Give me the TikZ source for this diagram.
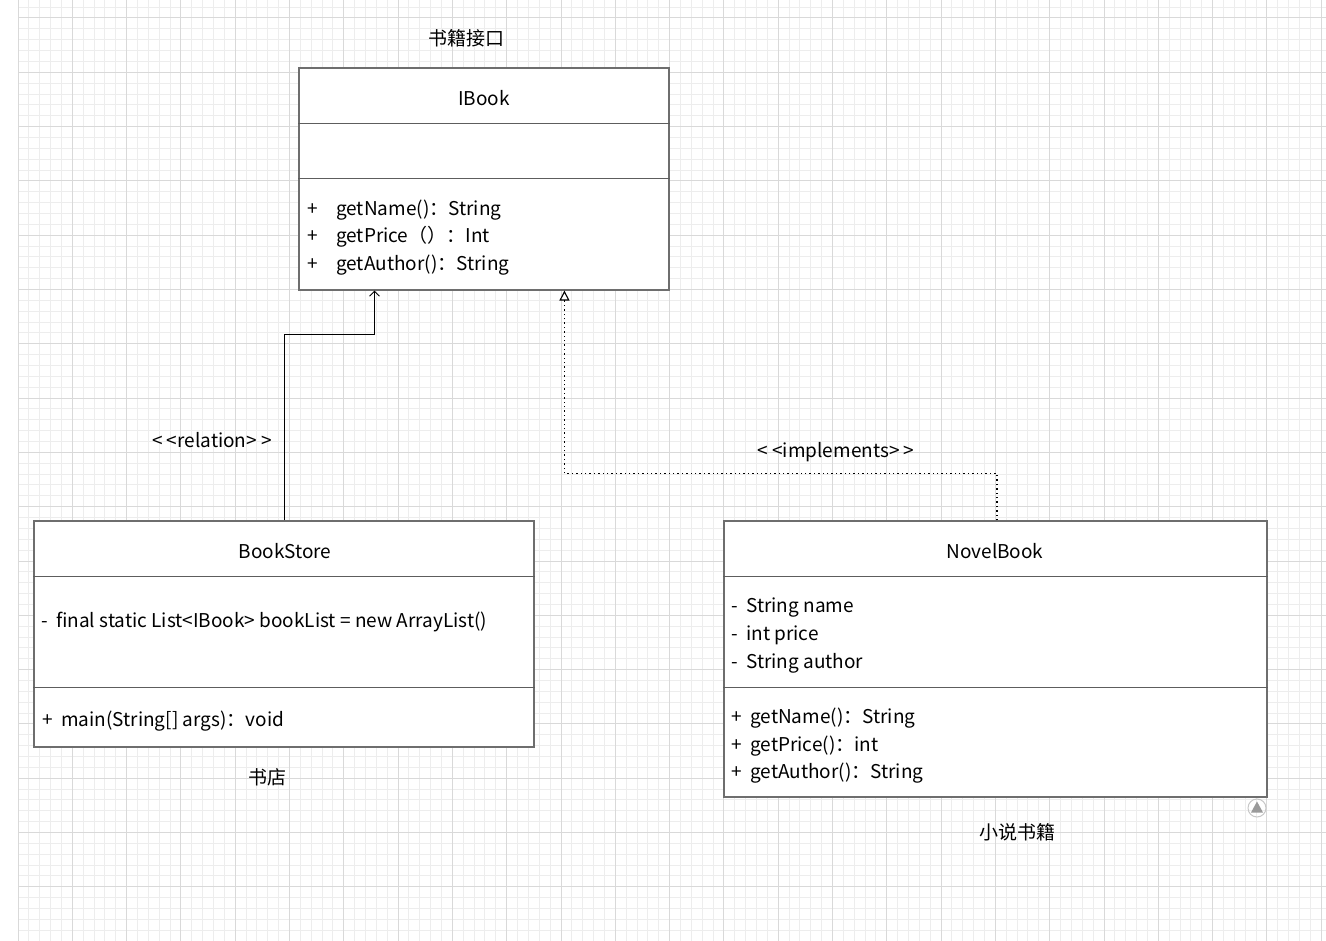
\documentclass[tikz,border=0pt]{standalone}
\usepackage{fontspec}
\setmainfont{Noto Sans CJK SC}
\usetikzlibrary{arrows.meta,calc}
\definecolor{umlGrid}{HTML}{EDEDED}
\definecolor{umlGridMajor}{HTML}{D9D9D9}
\definecolor{umlBorder}{HTML}{6E6E6E}
\definecolor{umlIcon}{HTML}{9A9A9A}

\begin{document}
\begin{tikzpicture}[x=1pt, y=-1pt, font=\fontsize{19}{22}\selectfont,
    classbox/.style={draw=umlBorder, line width=1.1pt, fill=white, inner sep=0pt},
    divider/.style={draw=umlBorder!85!black, line width=1.1pt},
    member/.style={anchor=west, inner sep=0pt},
    relline/.style={line width=0.9pt, -{Straight Barb[length=5pt, width=10pt]}},
    implline/.style={line width=1.1pt, dash pattern=on 1.4pt off 3pt,
      -{Triangle[open, length=10pt, width=10pt, fill=white]}}]
  \useasboundingbox (0,0) rectangle (1326,941);
  \fill[white] (0,0) rectangle (1326,941);
  % grid
  \foreach \i in {0,...,120}
    \draw[umlGrid, line width=1pt] (18+\i*10.86,0) -- (18+\i*10.86,941);
  \foreach \j in {-1,...,84}
    \draw[umlGrid, line width=1pt] (18,18+\j*10.86) -- (1326,18+\j*10.86);
  \foreach \i in {0,5,...,120}
    \draw[umlGridMajor, line width=1pt] (18+\i*10.86,0) -- (18+\i*10.86,941);
  \foreach \j in {0,5,...,80}
    \draw[umlGridMajor, line width=1pt] (18,18+\j*10.86) -- (1326,18+\j*10.86);

  % classes
  \node[classbox, minimum width=370pt, minimum height=222pt] (ibook) at (484,179) {};
  \node[classbox, minimum width=500pt, minimum height=226pt] (bookstore) at (284,634) {};
  \node[classbox, minimum width=543pt, minimum height=276pt] (novelbook) at (995.5,659) {};
  \draw[divider] ($(ibook.north west)+(0,56)$) -- ($(ibook.north east)+(0,56)$);
  \draw[divider] ($(ibook.north west)+(0,111)$) -- ($(ibook.north east)+(0,111)$);
  \draw[divider] ($(bookstore.north west)+(0,56)$) -- ($(bookstore.north east)+(0,56)$);
  \draw[divider] ($(bookstore.north west)+(0,167)$) -- ($(bookstore.north east)+(0,167)$);
  \draw[divider] ($(novelbook.north west)+(0,56)$) -- ($(novelbook.north east)+(0,56)$);
  \draw[divider] ($(novelbook.north west)+(0,167)$) -- ($(novelbook.north east)+(0,167)$);

  \node (ibookname) at (484,98) {IBook};
  \node[member] (ibm1) at (307,210) {\makebox[29pt][l]{+}getName()：String};
  \node[member] (ibm2) at (307,237) {\makebox[29pt][l]{+}getPrice（）：Int};
  \node[member] (ibm3) at (307,265) {\makebox[29pt][l]{+}getAuthor()：String};

  \node (bsname) at (285,551) {BookStore};
  \node[member] (bsa1) at (41,622) {-\ \ final static List<IBook>\ bookList\ =\ new ArrayList()};
  \node[member] (bsm1) at (42,721) {+\ \ main(String[] args)：void};

  \node (nbname) at (995,551) {NovelBook};
  \node[member] (nba1) at (731,608) {-\ \ String name};
  \node[member] (nba2) at (731,635) {-\ \ int price};
  \node[member] (nba3) at (731,663) {-\ \ String author};
  \node[member] (nbm1) at (731,718) {+\ \ getName()：String};
  \node[member] (nbm2) at (731,746) {+\ \ getPrice()：int};
  \node[member] (nbm3) at (731,773) {+\ \ getAuthor()：String};

  % captions
  \node (ibooklbl) at (466,38) {书籍接口};
  \node (bslbl) at (267,777) {书店};
  \node (nblbl) at (1017,832) {小说书籍};

  % connectors
  \draw[relline] (bookstore.north) -- ++(0,-186) -| ($(ibook.south west)+(76,0)$);
  \draw[implline] ($(novelbook.north)+(1.5,0)$) -- ++(0,-47) -| ($(ibook.south west)+(266,0)$);
  \node (rellbl) at (212,440) {< <relation> >};
  \node (impllbl) at (836,452) {< <implements> >};

  % scroll marker
  \draw[umlIcon!55, line width=1pt] (1257,808) circle (9pt);
  \fill[umlIcon] (1257,801.5) -- (1263,812.5) -- (1251,812.5) -- cycle;
\end{tikzpicture}
\end{document}
